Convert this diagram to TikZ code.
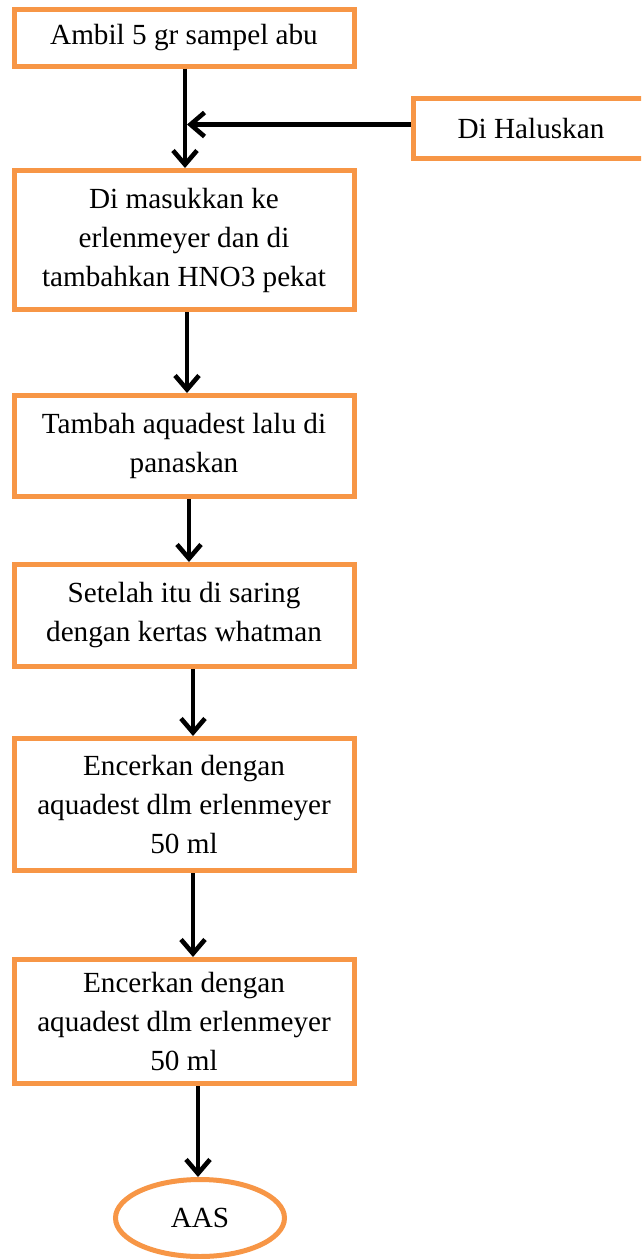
\documentclass[tikz,border=0pt]{standalone}
\usepackage{fontspec}
\setmainfont{Liberation Serif}
\usetikzlibrary{arrows.meta,shapes.geometric}
\definecolor{boxorange}{HTML}{F79646}
\begin{document}
\begin{tikzpicture}[x=1pt,y=-1pt,
  stepbox/.style={draw=boxorange, line width=5pt, fill=white, rectangle,
    minimum width=340pt, inner sep=0pt, align=center,
    font=\fontsize{29.2}{39}\selectfont},
  endbox/.style={draw=boxorange, line width=5pt, fill=white, ellipse,
    minimum width=169pt, minimum height=77pt, inner sep=0pt,
    font=\fontsize{29.2}{39}\selectfont},
  arr/.style={draw=black, line width=4.6pt,
    -{Straight Barb[length=14pt,width=24pt]}}]
\useasboundingbox (0,0) rectangle (641,1259);
\clip (0,0) rectangle (641,1259);
\node[stepbox, minimum height=56.5pt] (b1) at (184,37.75) {Ambil 5 gr sampel abu};
\node[stepbox, minimum width=235pt, minimum height=60pt] (h) at (531,128.5) {Di Haluskan};
\node[stepbox, minimum height=139pt] (b2) at (184,240) {Di masukkan ke\\erlenmeyer dan di\\tambahkan HNO3 pekat};
\node[stepbox, minimum height=101pt] (b3) at (184,446) {Tambah aquadest lalu di\\panaskan};
\node[stepbox, minimum height=102pt] (b4) at (184,615.5) {Setelah itu di saring\\dengan kertas whatman};
\node[stepbox, minimum height=132pt] (b5) at (184,804.5) {Encerkan dengan\\aquadest dlm erlenmeyer\\50 ml};
\node[stepbox, minimum height=124pt] (b6) at (184,1021.5) {Encerkan dengan\\aquadest dlm erlenmeyer\\50 ml};
\node[endbox] (aas) at (200,1218) {AAS};
\coordinate (j) at (187,124.5);
\draw[arr] ([xshift=1pt]b1.south) -- ([xshift=1pt]b2.north);
\draw[arr] (h.west |- j) -- (j);
\draw[arr] ([xshift=3pt]b2.south) -- ([xshift=3pt]b3.north);
\draw[arr] ([xshift=5pt]b3.south) -- ([xshift=5pt]b4.north);
\draw[arr] ([xshift=9pt]b4.south) -- ([xshift=9pt]b5.north);
\draw[arr] ([xshift=9pt]b5.south) -- ([xshift=9pt]b6.north);
\draw[arr] ([xshift=14pt]b6.south) -- ([xshift=-2pt]aas.north);
\end{tikzpicture}
\end{document}
